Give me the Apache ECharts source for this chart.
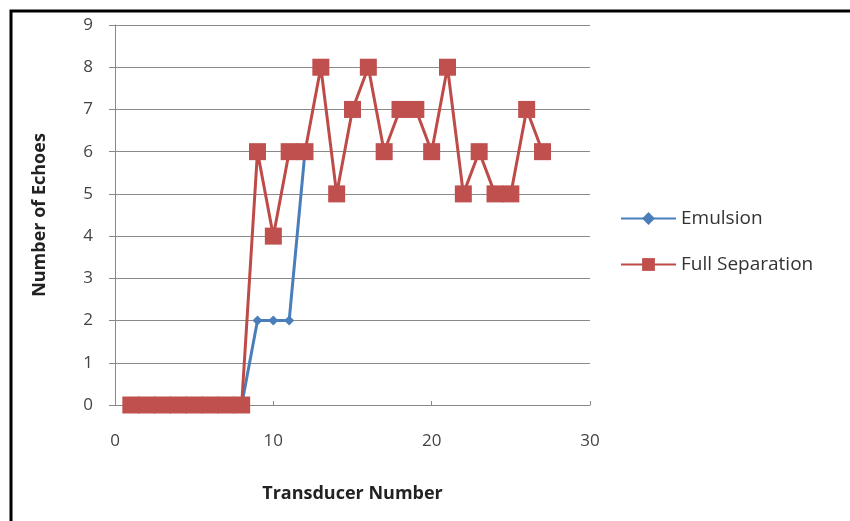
<!DOCTYPE html>
<html>
<head>
<meta charset="utf-8">
<script src="https://cdn.jsdelivr.net/npm/echarts@6/dist/echarts.min.js"></script>
<style>
	html, body { margin: 0; padding: 0; background: #fff; }
	#chart { width: 850px; height: 521px; }
</style>
</head>
<body>
<div id="chart"></div>
<script>
// transducer numbers and echo counts
var emulsionX = [1, 2, 3, 4, 5, 6, 7, 8, 9, 10, 11, 12];
var emulsionY = [0, 0, 0, 0, 0, 0, 0, 0, 2, 2, 2, 6];
var fullX = [1, 2, 3, 4, 5, 6, 7, 8, 9, 10, 11, 12, 13, 14, 15, 16, 17, 18, 19, 20, 21, 22, 23, 24, 25, 26, 27];
var fullY = [0, 0, 0, 0, 0, 0, 0, 0, 6, 4, 6, 6, 8, 5, 7, 8, 6, 7, 7, 6, 8, 5, 6, 5, 5, 7, 6];
var seriesNames = ['Emulsion', 'Full Separation'];

function pairs(xs, ys) {
	let out = [];
	for (let i = 0; i < xs.length; i++) {
		out.push([xs[i], ys[i]]);
	}
	return out;
}

var font = '"Open Sans", Lato, sans-serif';
var chart = echarts.init(document.getElementById('chart'));
var option = {
	animation: false,
	backgroundColor: '#fff',
	grid: {
		left: 115,
		right: 260,
		top: 25,
		bottom: 116
	},
	legend: {
		orient: 'vertical',
		left: 615,
		top: 204,
		itemGap: 27,
		itemWidth: 55,
		itemHeight: 16,
		textStyle: { fontFamily: font, fontSize: 19, color: '#333' },
		data: seriesNames
	},
	xAxis: {
		type: 'value',
		min: 0,
		max: 30,
		interval: 10,
		name: 'Transducer Number',
		nameLocation: 'middle',
		nameGap: 80,
		nameTextStyle: { fontFamily: font, fontSize: 18, fontWeight: 'bold', color: '#222' },
		axisLine: { show: true, lineStyle: { color: '#888', width: 1 } },
		axisTick: { show: true, inside: true, length: 4, lineStyle: { color: '#888' } },
		axisLabel: { fontFamily: font, fontSize: 17, color: '#444', margin: 28 },
		splitLine: { show: false }
	},
	yAxis: {
		type: 'value',
		min: 0,
		max: 9,
		interval: 1,
		name: 'Number of Echoes',
		nameLocation: 'middle',
		nameGap: 66,
		nameTextStyle: { fontFamily: font, fontSize: 18, fontWeight: 'bold', color: '#222' },
		axisLine: { show: true, lineStyle: { color: '#888', width: 1 } },
		axisTick: { show: true, length: 6, lineStyle: { color: '#888' } },
		axisLabel: { fontFamily: font, fontSize: 17, color: '#444', margin: 22 },
		splitLine: { show: true, lineStyle: { color: '#8a8a8a', width: 1 } }
	},
	series: [{
		name: seriesNames[0],
		type: 'line',
		data: pairs(emulsionX, emulsionY),
		symbol: 'diamond',
		symbolSize: 10,
		lineStyle: { color: '#4A7EBB', width: 3 },
		itemStyle: { color: '#4A7EBB' },
		z: 2
	}, {
		name: seriesNames[1],
		type: 'line',
		data: pairs(fullX, fullY),
		symbol: 'rect',
		symbolSize: 17,
		lineStyle: { color: '#BE4B48', width: 3 },
		itemStyle: { color: '#C0504D' },
		z: 3
	}],
	graphic: [{
		type: 'polyline',
		shape: { points: [[11, 521], [11, 11], [850, 11]] },
		style: { stroke: '#000', lineWidth: 3, fill: null }
	}]
};
chart.setOption(option);
</script>
</body>
</html>
